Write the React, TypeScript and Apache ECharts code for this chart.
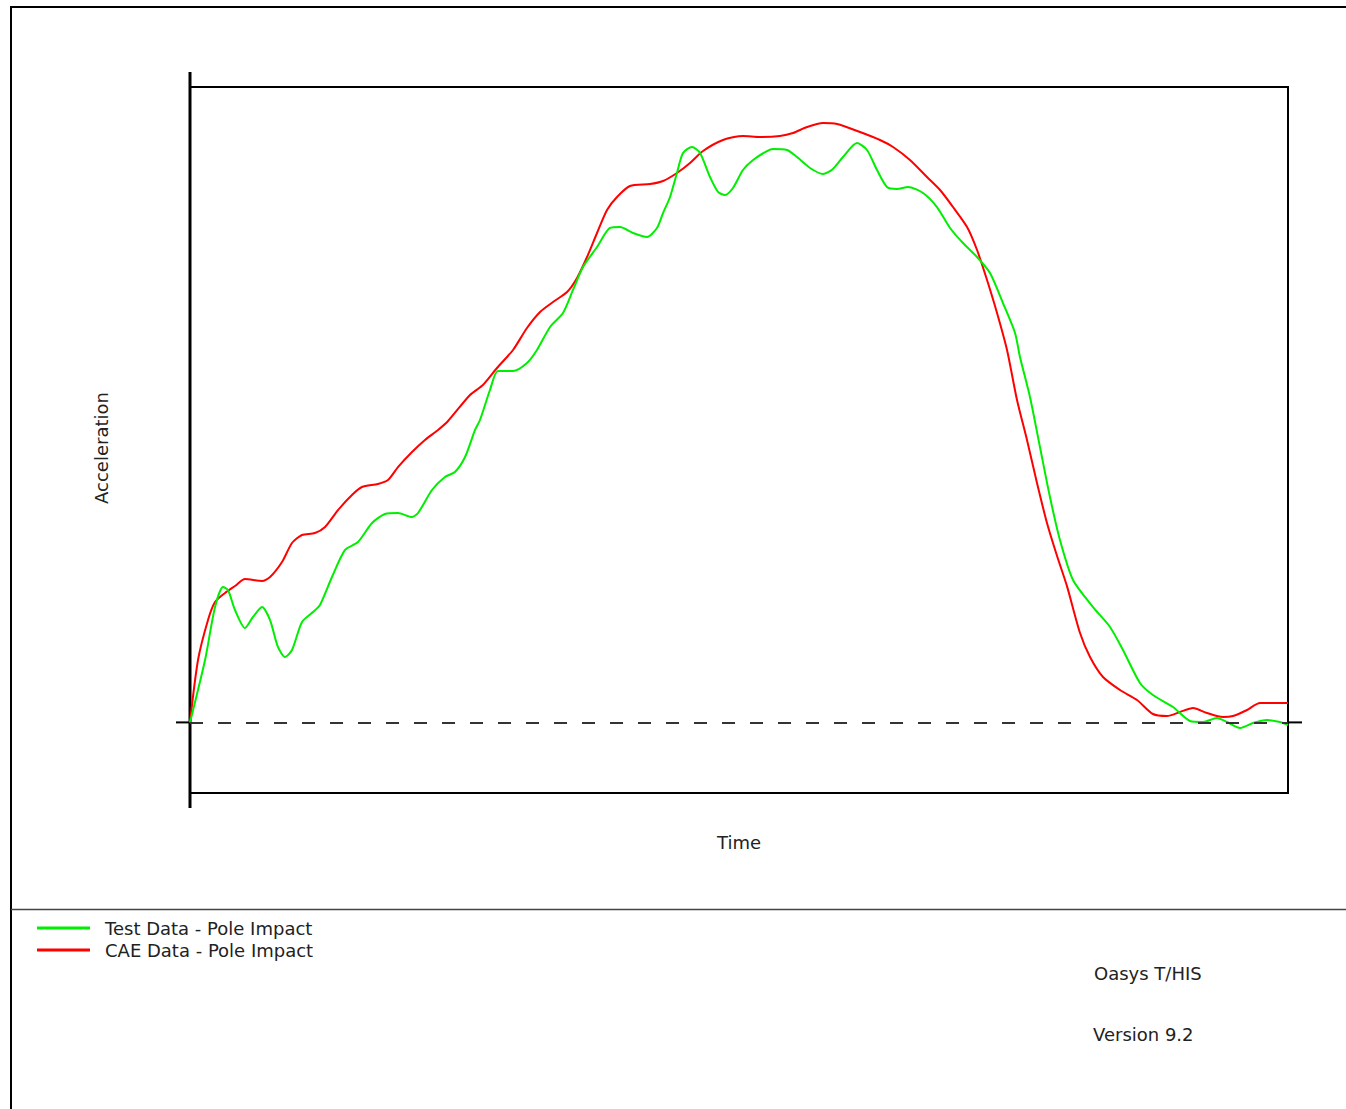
import React, { useEffect, useRef } from "react";
import * as echarts from "echarts";

// Time (ms) and acceleration (g)
const testTime = [0, 1.37, 2.28, 3.01, 3.46, 4.1, 5.01, 5.74, 6.56, 7.29, 8.01, 8.65, 9.29, 10.2, 11.2, 11.84, 12.93, 14.12, 15.3, 16.58, 17.76, 18.94, 20.22, 20.77, 22.04, 23.22, 24.13, 25.05, 25.96, 26.41, 27.32, 28.05, 29.42, 30.69, 31.6, 32.79, 33.97, 34.88, 35.79, 37.07, 38.25, 39.16, 40.35, 41.62, 42.53, 43.08, 43.72, 44.35, 44.9, 45.72, 46.45, 47.36, 48.09, 48.72, 49.45, 50.36, 51.28, 52.55, 53.1, 54.37, 55.28, 56.47, 57.65, 58.56, 59.47, 60.75, 61.66, 62.57, 63.48, 64.39, 65.39, 66.76, 68.03, 69.22, 70.4, 71.68, 72.86, 74.04, 75.14, 75.59, 76.5, 77.41, 78.32, 79.23, 80.42, 82.24, 83.79, 84.97, 86.52, 87.7, 89.53, 91.07, 92.26, 93.53, 94.44, 95.63, 96.81, 98.09, 99.27, 100];
const testAccel = [0, 8.84, 16.34, 19.17, 18.75, 15.92, 13.37, 14.93, 16.34, 14.5, 10.68, 9.26, 10.25, 14.22, 15.64, 16.63, 20.59, 24.43, 25.55, 28.24, 29.52, 29.66, 29.09, 29.66, 32.92, 34.76, 35.47, 37.59, 41.42, 42.83, 47.08, 49.77, 49.77, 50.91, 52.75, 56.01, 57.99, 61.25, 64.5, 67.34, 70.03, 70.17, 69.32, 68.75, 70.03, 72.15, 74.42, 77.82, 80.65, 81.5, 80.65, 77.25, 75.13, 74.7, 75.69, 78.24, 79.66, 80.93, 81.21, 81.08, 80.08, 78.53, 77.68, 78.39, 80.08, 82.07, 81.08, 78.24, 75.83, 75.55, 75.83, 74.98, 73.0, 70.03, 67.9, 65.92, 63.65, 59.4, 55.16, 51.76, 46.09, 39.01, 31.93, 25.84, 20.17, 16.34, 13.51, 10.25, 5.58, 3.88, 2.18, 0.2, 0.06, 0.62, 0.06, -0.79, -0.08, 0.34, 0.06, -0.37];

const caeTime = [0, 0.73, 1.64, 2.28, 3.19, 4.1, 5.01, 6.56, 7.29, 8.38, 9.29, 10.2, 11.38, 12.3, 13.48, 14.75, 15.66, 17.12, 18.03, 18.94, 20.22, 21.4, 22.59, 23.5, 25.5, 26.68, 27.96, 29.42, 30.69, 31.88, 33.06, 34.34, 35.25, 36.16, 37.07, 37.98, 38.89, 40.07, 41.89, 43.08, 44.35, 45.54, 46.72, 48.54, 50.36, 51.91, 53.73, 54.92, 56.19, 57.65, 58.93, 61.02, 62.84, 64.03, 65.57, 67.12, 68.31, 69.49, 70.77, 71.68, 72.59, 73.5, 74.41, 75.32, 76.23, 77.14, 78.05, 78.96, 79.87, 81.06, 81.97, 83.15, 84.7, 86.25, 87.7, 88.98, 90.16, 91.35, 92.62, 94.08, 94.99, 96.27, 97.45, 100];
const caeAccel = [0, 8.84, 14.5, 17.05, 18.33, 19.32, 20.31, 20.03, 20.59, 22.72, 25.41, 26.54, 26.83, 27.68, 30.08, 32.21, 33.34, 33.77, 34.33, 36.17, 38.3, 40.0, 41.42, 42.69, 46.38, 47.79, 50.2, 52.75, 55.86, 58.13, 59.55, 60.96, 62.95, 65.92, 69.32, 72.58, 74.42, 75.98, 76.26, 76.69, 77.82, 79.24, 80.93, 82.49, 83.06, 82.92, 83.06, 83.48, 84.33, 84.9, 84.76, 83.62, 82.49, 81.5, 79.66, 77.25, 75.41, 73.0, 70.17, 66.91, 62.66, 57.99, 52.75, 45.66, 40.0, 33.91, 28.24, 23.6, 19.3, 12.66, 9.26, 6.43, 4.59, 3.17, 1.19, 0.91, 1.47, 2.04, 1.33, 0.76, 0.91, 1.76, 2.75, 2.75];

const seriesNames = ["Test Data - Pole Impact", "CAE Data - Pole Impact"];
const xRange = [0, 100];
const yRange = [-10, 90];

const FONT = "'DejaVu Sans', Verdana, sans-serif";
const FS = 18;

export default function App() {
  const ref = useRef<HTMLDivElement>(null);
  useEffect(() => {
    if (!ref.current) return;
    const chart = echarts.init(ref.current, null, { renderer: "svg" });
    const zip = (a: number[], b: number[]) => a.map((v, i) => [v, b[i]]);
    chart.setOption({
      animation: false,
      backgroundColor: "#ffffff",
      grid: {
        left: 190,
        top: 87,
        width: 1098,
        height: 706,
        show: true,
        borderColor: "#000000",
        borderWidth: 2,
        backgroundColor: "transparent",
      },
      xAxis: {
        type: "value",
        min: xRange[0],
        max: xRange[1],
        name: "Time",
        nameLocation: "middle",
        nameGap: 40,
        nameTextStyle: { fontFamily: FONT, fontSize: FS, color: "#222" },
        axisLine: { show: false },
        axisTick: { show: false },
        axisLabel: { show: false },
        splitLine: { show: false },
      },
      yAxis: {
        type: "value",
        min: yRange[0],
        max: yRange[1],
        name: "Acceleration",
        nameLocation: "middle",
        nameRotate: 90,
        nameGap: 80,
        nameTextStyle: { fontFamily: FONT, fontSize: FS, color: "#222", padding: [0, 16, 0, 0] },
        axisLine: { show: false },
        axisTick: { show: false },
        axisLabel: { show: false },
        splitLine: { show: false },
      },
      legend: {
        orient: "vertical",
        left: 37,
        top: 919,
        padding: 0,
        itemWidth: 53,
        itemHeight: 3,
        itemGap: 4,
        icon: "rect",
        textStyle: {
          fontFamily: FONT,
          fontSize: FS,
          color: "#222",
          padding: [0, 0, 0, 10],
        },
        data: seriesNames,
      },
      series: [
        {
          name: seriesNames[0],
          type: "line",
          data: zip(testTime, testAccel),
          showSymbol: false,
          smooth: 0.25,
          color: "#00ee00",
          lineStyle: { width: 2, color: "#00ee00" },
          markLine: {
            silent: true,
            symbol: "none",
            label: { show: false },
            lineStyle: { type: [13, 15], color: "#333333", width: 2 },
            data: [{ yAxis: 0 }],
          },
          z: 3,
        },
        {
          name: seriesNames[1],
          type: "line",
          data: zip(caeTime, caeAccel),
          showSymbol: false,
          smooth: 0.25,
          color: "#ff0000",
          lineStyle: { width: 2, color: "#ff0000" },
          z: 2,
        },
      ],
    });

    const p0 = chart.convertToPixel({ gridIndex: 0 }, [xRange[0], 0]) as number[];
    const p1 = chart.convertToPixel({ gridIndex: 0 }, [xRange[1], 0]) as number[];
    const top = chart.convertToPixel({ gridIndex: 0 }, [xRange[0], yRange[1]]) as number[];
    const bot = chart.convertToPixel({ gridIndex: 0 }, [xRange[0], yRange[0]]) as number[];
    chart.setOption({
      graphic: [
        { type: "line", shape: { x1: 11, y1: 7, x2: 1346, y2: 7 }, style: { stroke: "#000", lineWidth: 2 } },
        { type: "line", shape: { x1: 11, y1: 6, x2: 11, y2: 1109 }, style: { stroke: "#000", lineWidth: 2 } },
        { type: "line", shape: { x1: 11, y1: 909.5, x2: 1346, y2: 909.5 }, style: { stroke: "#444", lineWidth: 1.5 } },
        { type: "line", shape: { x1: p0[0], y1: top[1] - 15, x2: p0[0], y2: bot[1] + 15 }, style: { stroke: "#000", lineWidth: 3 } },
        { type: "line", shape: { x1: p0[0] - 14, y1: p0[1], x2: p0[0], y2: p0[1] }, style: { stroke: "#000", lineWidth: 2 } },
        { type: "line", shape: { x1: p1[0], y1: p1[1], x2: p1[0] + 14, y2: p1[1] }, style: { stroke: "#000", lineWidth: 2 } },
        { type: "text", left: 1094, top: 964, style: { text: "Oasys T/HIS", font: `${FS}px ${FONT}`, fill: "#222" } },
        { type: "text", left: 1093, top: 1025, style: { text: "Version 9.2", font: `${FS}px ${FONT}`, fill: "#222" } },
      ],
    });
    return () => chart.dispose();
  }, []);
  return (
    <div
      ref={ref}
      style={{ position: "absolute", left: 0, top: 0, width: 1346, height: 1109 }}
    />
  );
}
